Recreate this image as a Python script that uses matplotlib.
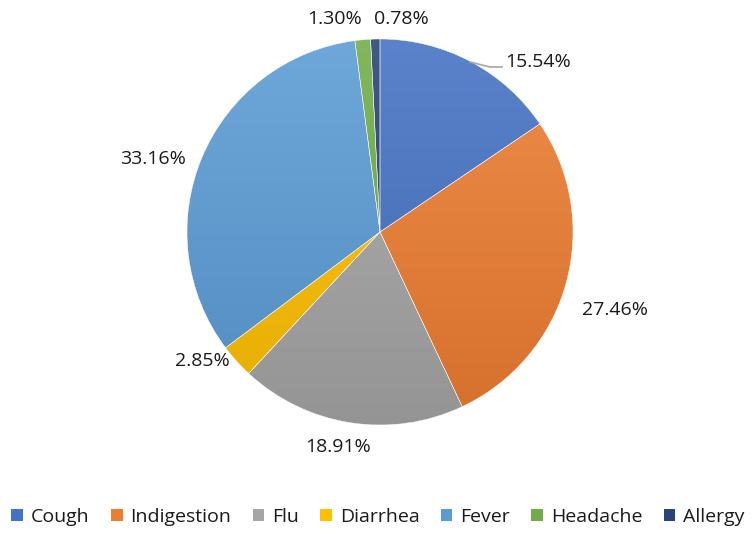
import numpy as np
import matplotlib
matplotlib.use("Agg")
import matplotlib.pyplot as plt
from matplotlib.colors import to_rgb
from matplotlib.patches import Rectangle

categories = ["Cough", "Indigestion", "Flu", "Diarrhea", "Fever", "Headache", "Allergy"]
values = [15.54, 27.46, 18.91, 2.85, 33.16, 1.30, 0.78]
colors = ["#4472C4", "#ED7D31", "#A5A5A5", "#FFC000", "#5B9BD5", "#70AD47", "#264478"]
labels = ["15.54%", "27.46%", "18.91%", "2.85%", "33.16%", "1.30%", "0.78%"]

# layout (pixel coordinates, y measured from top)
W, H = 756, 536
cx, cy, R = 380, 232, 193
label_pos = [(538, 62), (615, 310), (338, 447), (202, 361), (153, 159), (335, 19), (401, 19)]

plt.rcParams['font.family'] = ['Open Sans', 'DejaVu Sans']
fig = plt.figure(figsize=(W / 100, H / 100), dpi=100)
ax = fig.add_axes([0, 0, 1, 1])

wedges, _ = ax.pie(values, colors=colors, startangle=90, counterclock=False,
                   center=(cx, H - cy), radius=R, frame=True,
                   wedgeprops=dict(linewidth=0.3, edgecolor='white'))


def shade(c, f):
    c = np.array(to_rgb(c))
    if f >= 0:
        return c + (1 - c) * f
    return c * (1 + f)


t = np.linspace(0, 1, 256)[:, None]
for w, c in zip(wedges, colors):
    top = shade(c, 0.12)
    bot = shade(c, -0.10)
    grad = top[None, None, :] * (1 - t[:, :, None]) + bot[None, None, :] * t[:, :, None]
    grad = np.repeat(grad, 2, axis=1)
    im = ax.imshow(grad, extent=(cx - R, cx + R, H - cy - R, H - cy + R),
                   origin='upper', aspect='auto', zorder=w.get_zorder() + 0.1,
                   interpolation='bilinear')
    im.set_clip_path(w)
    w.set_facecolor('none')
    w.set_zorder(w.get_zorder() + 0.2)
ax.set_xlim(0, W)
ax.set_ylim(0, H)
ax.set_aspect('auto')
ax.axis('off')

for lab, (x, y) in zip(labels, label_pos):
    ax.text(x, H - y, lab, ha='center', va='center', fontsize=14, color='#1a1a1a')

# leader line for the Cough label
ax.plot([470, 490, 502], [H - 62, H - 67, H - 67], color='#A6A6A6', lw=1.2, zorder=5)

handles = [Rectangle((0, 0), 1, 1, facecolor=c, edgecolor='none') for c in colors]
leg = fig.legend(handles, categories, loc='center', bbox_to_anchor=(0.5, 1 - 517 / H),
                 ncol=len(categories), frameon=False, fontsize=14,
                 handlelength=0.6, handleheight=0.6, handletextpad=0.4,
                 columnspacing=1.1, labelcolor='#1a1a1a')

fig.savefig("out.png", dpi=100)
